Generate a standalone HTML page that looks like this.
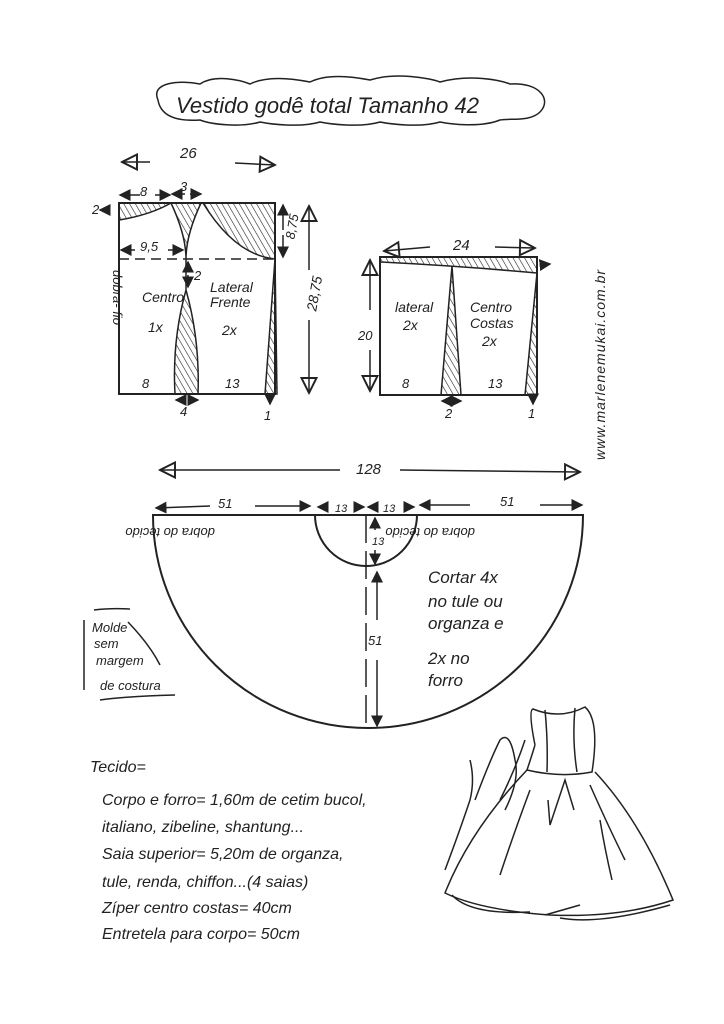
<!DOCTYPE html>
<html><head><meta charset="utf-8"><style>
html,body{margin:0;padding:0;background:#fff}
svg{display:block}
text{font-family:"Liberation Sans",sans-serif;fill:#222}
</style></head><body>
<svg width="724" height="1024" viewBox="0 0 724 1024" xmlns="http://www.w3.org/2000/svg">
<defs>
<pattern id="h" width="5" height="5" patternUnits="userSpaceOnUse" patternTransform="rotate(-30)">
<line x1="0" y1="0" x2="0" y2="5" stroke="#222" stroke-width="1.2"/></pattern>
<marker id="a" markerWidth="8" markerHeight="8" refX="7" refY="4" orient="auto"><path d="M0,0 L8,4 L0,8 z" fill="#222"/></marker>
<marker id="o" markerWidth="12" markerHeight="12" refX="11" refY="6" orient="auto"><path d="M1,1 L11,6 L1,11 z" fill="none" stroke="#222" stroke-width="1.3"/></marker>
</defs>
<g fill="none" stroke="#222" stroke-width="1.5">
<path d="M158,100 C150,82 180,80 200,84 C215,74 240,80 250,84 C270,74 300,80 310,82 C330,72 360,78 370,80 C395,72 430,78 440,82 C470,74 500,80 510,84 C540,82 552,100 540,112 C530,122 510,118 500,120 C480,128 450,124 440,122 C420,128 390,124 380,122 C360,128 330,124 320,122 C300,128 270,124 260,122 C240,128 210,124 200,120 C170,122 160,112 158,100 Z"/>
</g>
<text x="176" y="113" font-size="22" font-style="italic">Vestido  godê  total  Tamanho   42</text>

<g stroke="#222" stroke-width="1.5" fill="none">
<path d="M119,220 Q150,215 171,203 L119,203 Z" fill="url(#h)"/>
<path d="M171,203 L201,203 Q186,235 186,259 Q186,235 171,203 Z" fill="url(#h)"/>
<path d="M203,203 L275,203 L275,259 Q235,255 203,203 Z" fill="url(#h)"/>
<path d="M186,259 L186,290 Q172,340 175,394 L198,394 Q200,340 186,290" fill="url(#h)"/>
<path d="M275,259 L265,394 L277,394 Z" fill="url(#h)"/>
<path d="M119,203 L275,203 L275,394 L119,394 Z" stroke-width="2"/>
<line x1="119" y1="259" x2="275" y2="259" stroke-dasharray="10,6"/>
<path d="M380,257 L537,257 L537,273 Q460,266 380,262 Z" fill="url(#h)"/>
<path d="M452,266 L441,395 L461,395 Z" fill="url(#h)"/>
<path d="M537,273 L525,395 L537,395 Z" fill="url(#h)"/>
<path d="M380,257 L537,257 L537,395 L380,395 Z" stroke-width="2"/>
<line x1="150" y1="162" x2="122" y2="162" marker-end="url(#o)"/>
<line x1="235" y1="163" x2="275" y2="165" marker-end="url(#o)"/>
<line x1="140" y1="195" x2="120" y2="195" marker-end="url(#a)"/>
<line x1="155" y1="195" x2="170" y2="195" marker-end="url(#a)"/>
<line x1="185" y1="194" x2="172" y2="194" marker-end="url(#a)"/>
<line x1="190" y1="194" x2="201" y2="194" marker-end="url(#a)"/>
<line x1="110" y1="210" x2="100" y2="210" marker-end="url(#a)"/>
<line x1="135" y1="250" x2="121" y2="250" marker-end="url(#a)"/>
<line x1="168" y1="250" x2="183" y2="250" marker-end="url(#a)"/>
<line x1="188" y1="270" x2="188" y2="262" marker-end="url(#a)"/>
<line x1="188" y1="275" x2="188" y2="287" marker-end="url(#a)"/>
<line x1="283" y1="230" x2="283" y2="205" marker-end="url(#a)"/>
<line x1="283" y1="235" x2="283" y2="257" marker-end="url(#a)"/>
<line x1="309" y1="270" x2="309" y2="206" marker-end="url(#o)"/>
<line x1="309" y1="320" x2="309" y2="393" marker-end="url(#o)"/>
<line x1="184" y1="400" x2="176" y2="400" marker-end="url(#a)"/>
<line x1="188" y1="400" x2="198" y2="400" marker-end="url(#a)"/>
<line x1="270" y1="394" x2="270" y2="404" marker-end="url(#a)"/>
<line x1="430" y1="247" x2="384" y2="251" marker-end="url(#o)"/>
<line x1="495" y1="247" x2="535" y2="248" marker-end="url(#o)"/>
<line x1="540" y1="265" x2="550" y2="264" marker-end="url(#a)"/>
<line x1="370" y1="310" x2="370" y2="260" marker-end="url(#o)"/>
<line x1="370" y1="350" x2="370" y2="391" marker-end="url(#o)"/>
<line x1="450" y1="401" x2="442" y2="401" marker-end="url(#a)"/>
<line x1="453" y1="401" x2="461" y2="401" marker-end="url(#a)"/>
<line x1="533" y1="395" x2="533" y2="404" marker-end="url(#a)"/>
<path d="M153,515 L583,515 A215,213 0 0 1 153,515 Z" stroke-width="2"/>
<path d="M315,515 A51,51 0 0 0 417,515" stroke-width="2"/>
<line x1="366" y1="515" x2="366" y2="728" stroke-dasharray="28,8"/>
<line x1="340" y1="470" x2="160" y2="470" marker-end="url(#o)"/>
<line x1="400" y1="470" x2="580" y2="472" marker-end="url(#o)"/>
<line x1="210" y1="506" x2="156" y2="508" marker-end="url(#a)"/>
<line x1="255" y1="506" x2="310" y2="506" marker-end="url(#a)"/>
<line x1="325" y1="507" x2="318" y2="507" marker-end="url(#a)"/>
<line x1="358" y1="507" x2="364" y2="507" marker-end="url(#a)"/>
<line x1="374" y1="507" x2="368" y2="507" marker-end="url(#a)"/>
<line x1="406" y1="507" x2="414" y2="507" marker-end="url(#a)"/>
<line x1="470" y1="505" x2="420" y2="505" marker-end="url(#a)"/>
<line x1="540" y1="505" x2="582" y2="505" marker-end="url(#a)"/>
<line x1="375" y1="530" x2="375" y2="518" marker-end="url(#a)"/>
<line x1="375" y1="550" x2="375" y2="564" marker-end="url(#a)"/>
<line x1="377" y1="620" x2="377" y2="572" marker-end="url(#a)"/>
<line x1="377" y1="660" x2="377" y2="726" marker-end="url(#a)"/>
<path d="M94,610 Q110,608 130,609"/><line x1="84" y1="620" x2="84" y2="690"/>
<path d="M128,622 Q150,645 160,665"/><path d="M100,700 Q130,696 175,695"/>
<path d="M535,745 Q528,710 533,709 Q560,720 585,707 Q600,720 592,772 Q560,778 527,770 Q532,755 535,745"/>
<path d="M545,710 Q548,740 547,772 M575,708 Q572,740 577,772"/>
<path d="M527,770 Q470,830 445,893 Q480,910 550,915 Q620,918 673,900 Q640,820 595,772"/>
<path d="M452,895 Q470,915 530,912 M560,918 Q600,925 670,905 M545,915 L580,905"/>
<path d="M530,790 Q515,830 500,875 M548,800 L550,825 L565,780 L574,810 M590,785 Q610,830 625,860 M600,820 Q605,850 612,880"/>
<path d="M445,870 Q460,830 470,800 Q475,780 470,760 M475,800 Q490,760 500,740 Q510,730 515,760 Q520,780 505,810 M500,800 Q515,770 525,740"/>
</g>
<g font-size="13" font-style="italic">
<text x="180" y="158" font-size="15">26</text>
<text x="140" y="196">8</text><text x="180" y="191">3</text>
<text x="92" y="214">2</text>
<text x="140" y="251">9,5</text>
<text x="194" y="280">2</text>
<text x="286" y="240" transform="rotate(-80 290 235)">8,75</text>
<text x="298" y="310" font-size="14" transform="rotate(-80 308 300)">28,75</text>
<text x="113" y="270" transform="rotate(90 113 270)">dobra- fio</text>
<text x="142" y="302" font-size="14">Centro</text>
<text x="148" y="332" font-size="14">1x</text>
<text x="210" y="292" font-size="14">Lateral</text>
<text x="210" y="307" font-size="14">Frente</text>
<text x="222" y="335" font-size="14">2x</text>
<text x="142" y="388">8</text><text x="225" y="388">13</text>
<text x="180" y="416">4</text><text x="264" y="420">1</text>
<text x="453" y="250" font-size="15">24</text>
<text x="358" y="340">20</text>
<text x="395" y="312" font-size="14">lateral</text>
<text x="403" y="330" font-size="14">2x</text>
<text x="470" y="312" font-size="14">Centro</text>
<text x="470" y="328" font-size="14">Costas</text>
<text x="482" y="346" font-size="14">2x</text>
<text x="402" y="388">8</text><text x="488" y="388">13</text>
<text x="445" y="418">2</text><text x="528" y="418">1</text>
<text x="605" y="460" transform="rotate(-90 605 460)" font-size="14" letter-spacing="1">www.marlenemukai.com.br</text>
<text x="356" y="474" font-size="15">128</text>
<text x="218" y="508">51</text><text x="500" y="506">51</text>
<text x="335" y="512" font-size="11">13</text><text x="383" y="512" font-size="11">13</text>
<text x="372" y="545" font-size="11">13</text>
<text x="368" y="645">51</text>
<text x="245" y="522" transform="rotate(180 230 525)">dobra do tecido</text>
<text x="505" y="522" transform="rotate(180 490 525)">dobra do tecido</text>
<g font-size="17"><text x="428" y="583">Cortar 4x</text><text x="428" y="607">no tule ou</text>
<text x="428" y="629">organza e</text><text x="428" y="664">2x no</text><text x="428" y="686">forro</text></g>
<g font-size="13"><text x="92" y="632">Molde</text><text x="94" y="648">sem</text><text x="96" y="665">margem</text><text x="100" y="690">de costura</text></g>
<g font-size="16"><text x="90" y="772">Tecido=</text>
<text x="102" y="805">Corpo e forro= 1,60m de cetim bucol,</text>
<text x="102" y="832">italiano, zibeline, shantung...</text>
<text x="102" y="859">Saia superior= 5,20m de organza,</text>
<text x="102" y="887">tule, renda, chiffon...(4 saias)</text>
<text x="102" y="913">Zíper centro costas= 40cm</text>
<text x="102" y="939">Entretela para corpo= 50cm</text></g>
</g>
</svg>
</body></html>
